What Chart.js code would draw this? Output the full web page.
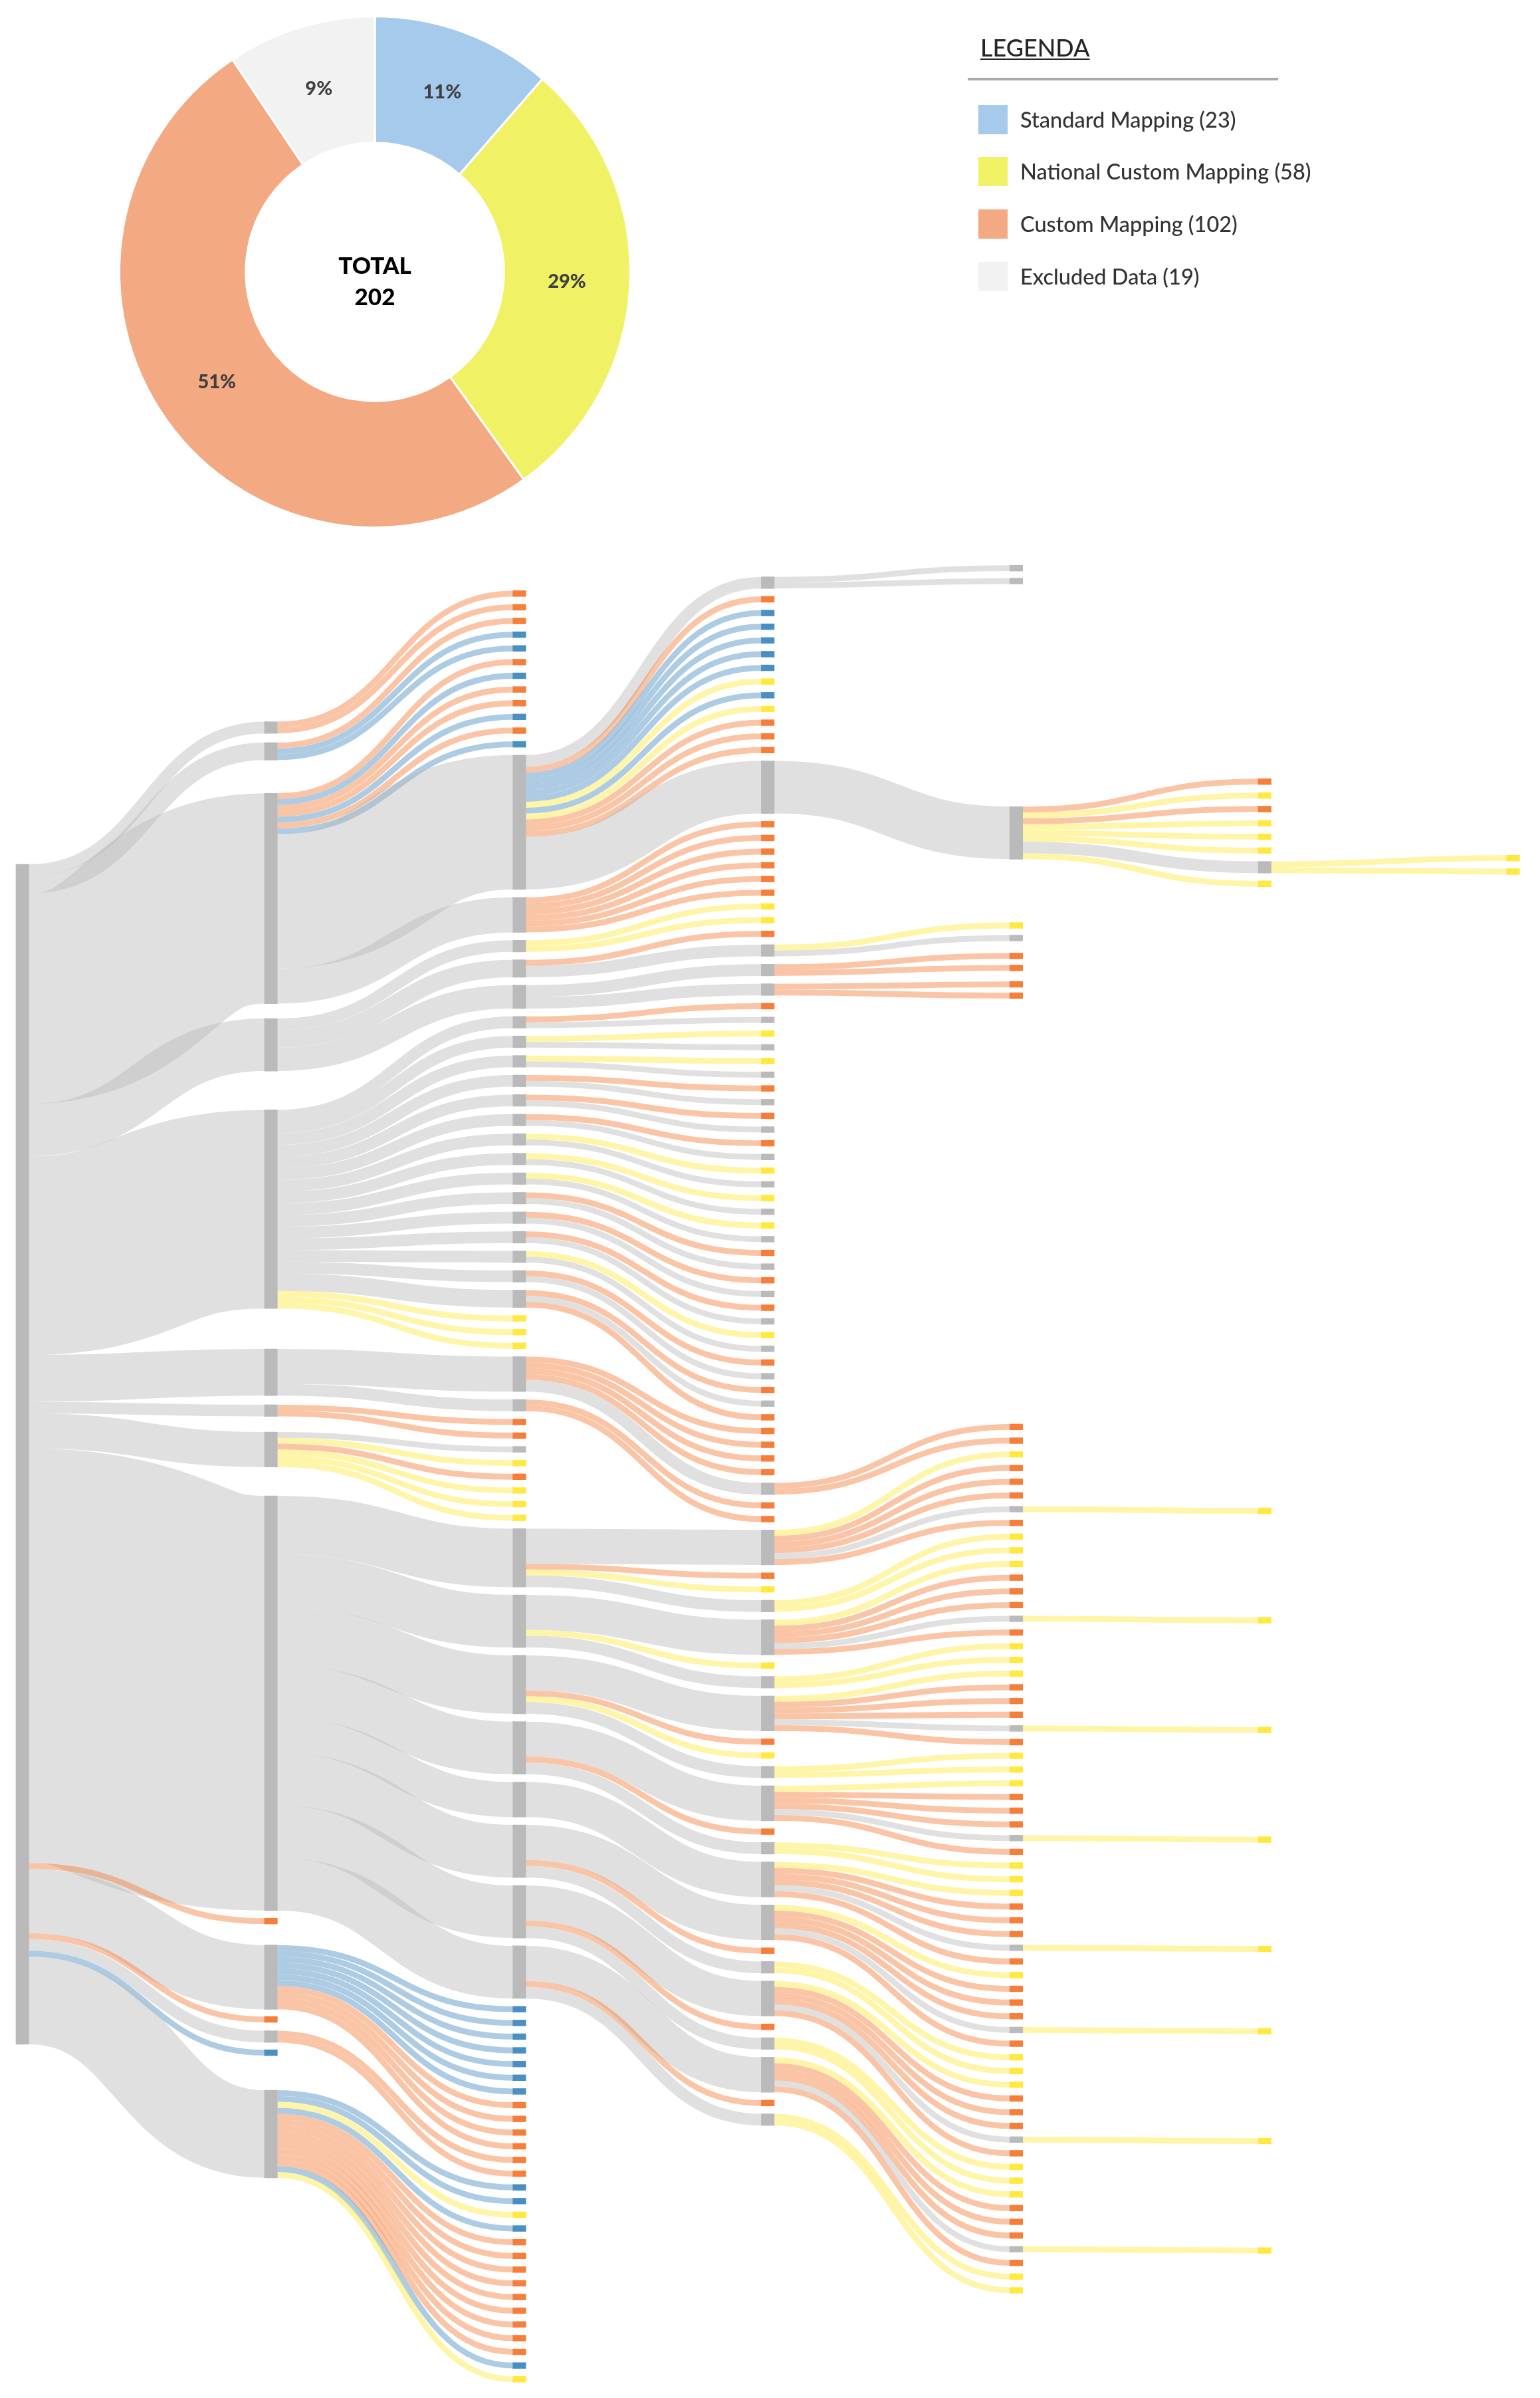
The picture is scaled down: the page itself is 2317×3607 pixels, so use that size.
<!DOCTYPE html>
<html>
<head>
<meta charset="utf-8">
<title>Mapping</title>
<script src="https://cdn.jsdelivr.net/npm/chart.js@4"></script>
<style>
html,body{margin:0;padding:0;background:#fff;width:2317px;height:3607px;overflow:hidden}
canvas{position:absolute;left:0;top:0}
#legend{position:absolute;left:0;top:0;font-family:Lato,sans-serif;color:#333;font-weight:500}
#legend .t{position:absolute;left:1475px;top:49px;font-size:36px;line-height:44px;text-decoration:underline;text-decoration-thickness:2px;text-underline-offset:3px;color:#262626}
#legend .r{position:absolute;left:1456px;top:117px;width:467px;height:4px;background:#a9a9a9}
#legend .s{position:absolute;left:1472px;width:44px;height:44px}
#legend .l{position:absolute;left:1535px;font-size:32.5px;line-height:40px;white-space:nowrap}
</style>
</head>
<body>
<canvas id="flow" width="2317" height="3607"></canvas>
<canvas id="donut" width="1128" height="818"></canvas>
<div id="legend"></div>
<script>
// ---- Doughnut data ----
const categories = ['Standard Mapping', 'National Custom Mapping', 'Custom Mapping', 'Excluded Data'];
const categoryCounts = [23, 58, 102, 19];
const categoryColors = ['#A6CAEC', '#F1F166', '#F3AA82', '#F2F2F2'];
const sliceLabels = ['11%', '29%', '51%', '9%'];
const totalLabel = ['TOTAL', '202'];
const legendTitle = 'LEGENDA';

// ---- Sankey data: tokens are kind + record count ----
// g = grey node continuing to the next stage, x = excluded end, o/b/y = custom / standard / national end
const stage0 = ['g202'];
const stage0Tops = [0];

const stage1Groups = ['g2 g3 g36 g9 g34 g8 g2 g6 g71 o g11 o g2 b g15'];
const stage1Tops = [-24.40,-20.83,-12.15,26.40,42.04,82.96,92.52,97.19,108.11,180.41,185.01,197.24,199.68,202.94,209.86];

// children of each g node of the previous stage, in order
const stage2Groups = [
  'o o', 'o b b', 'o b o o b o b g23 g6', 'g2 g3 g4',
  'g2 g2 g2 g2 g2 g2 g2 g2 g2 g2 g2 g2 g2 g2 g3 y y y',
  'g6 g2', 'o o', 'x y o y y y',
  'g10 g9 g10 g9 g6 g9 g9 g9',
  'b b b b b b b o o o o', 'o o',
  'b b y b o o o o o o o o o b y'
];
const stage2Tops = [-46.84];

const stage3Groups = [
  'g2 o b b b b b y b y o o o g9', 'o o o o o o', 'y y', 'o g2', 'g2 g2',
  'o x','y x','y x','o x','o x','o x','y x','y x','y x','o x','o x','o x','y x','o x','o x o',
  'o o o o g2', 'o o',
  'g6 o y g2', 'g6 y g2', 'g6 o y g2', 'g6 o g2', 'g6', 'g6 o g2', 'g6 o g2', 'g6 o g2'
];
const stage3Tops = [-49.2];

const stage4Groups = [
  'x x', 'g9', 'y x', 'o o', 'o o', 'o o',
  'y o o o g o', 'y y', 'y o o o g o', 'y y', 'y o o o g o', 'y y', 'y o o o g o', 'y y',
  'y o o o g o', 'y o o o g o', 'y y', 'y o o o g o', 'y y', 'y o o o g o', 'y y'
];
const stage4Tops = [-51.18,-48.98,-9.87,9.97,12.13,15.20,17.25,20.05,21.99,95.82];

const stage5Groups = ['o y o y y y g2 y','y','y','y','y','y','y','y','y'];
const stage5Tops = [-14.65,-12.26,-9.95,-7.52,-5.20,-2.86,-0.49,2.83,110.18,128.92,147.69,166.47,185.19,199.27,218.07,236.80];

const stage6Groups = ['y y'];
const stage6Tops = [-1.56,0.75];

const nodeGap = 1.346;   // records of empty space between packed nodes

const nodeColors = {g:'#bababa', x:'#bababa', o:'#f47e3a', b:'#4a8fc2', y:'#ffe83f'};
const linkColors = {g:'rgba(186,186,186,0.45)', x:'rgba(186,186,186,0.45)', o:'rgba(244,126,58,0.45)', b:'rgba(74,143,194,0.45)', y:'rgba(255,232,63,0.45)'};
const NODE_PX = 19.5;

// ---- Build nodes and links from the lists above ----
const tok = t => ({kind:t[0], value:+t.slice(1) || 1, cursor:0});
function place(list, stage, tops){
  let y = 0;
  list.forEach((n,i)=>{
    n.stage = stage;
    n.top = i < tops.length ? tops[i] : y;
    y = n.top + n.value + nodeGap;
  });
  return list;
}
const stages = [place(stage0.map(tok),0,stage0Tops)];
const links = [];
function nextStage(groups, tops){
  const stage = stages.length;
  const parents = stages[stage-1].filter(n=>n.kind==='g');
  if (parents.length !== groups.length) throw new Error('stage '+stage+' groups '+groups.length+' vs parents '+parents.length);
  const list = [];
  groups.forEach((g,pi)=>{
    const kids = g.split(' ').map(tok);
    const sum = kids.reduce((a,k)=>a+k.value,0);
    if (sum !== parents[pi].value) throw new Error('stage '+stage+' group '+pi+' sum '+sum+' vs '+parents[pi].value);
    kids.forEach(k=>{k.parent=parents[pi]; list.push(k);});
  });
  stages.push(place(list,stage,tops));
  list.forEach(k=>{
    links.push({from:stage-1,to:stage,y0:k.parent.top+k.parent.cursor,y1:k.top,v:k.value,kind:k.kind});
    k.parent.cursor += k.value;
  });
}
nextStage(stage1Groups, stage1Tops);
nextStage(stage2Groups, stage2Tops);
nextStage(stage3Groups, stage3Tops);
nextStage(stage4Groups, stage4Tops);
nextStage(stage5Groups, stage5Tops);
nextStage(stage6Groups, stage6Tops);

const allNodes = stages.flat();
const kindOrder = ['g','x','o','b','y'];
const nodeDatasets = kindOrder.map(kind=>({
  label: kind,
  data: allNodes.filter(n=>n.kind===kind).map(n=>({x:n.stage, y:[n.top, n.top+n.value]})),
  backgroundColor: nodeColors[kind],
  borderWidth: 0,
  barThickness: NODE_PX,
  grouped: false
}));

// Each link is a stroked curve whose width is its record count on the y scale
const ribbonPlugin = {
  id:'ribbons',
  beforeDatasetsDraw(chart){
    const {ctx, scales:{x,y}} = chart;
    ctx.save();
    ctx.lineCap = 'butt';
    links.forEach(l=>{
      const xa = x.getPixelForValue(l.from)+NODE_PX/2;
      const xb = x.getPixelForValue(l.to)-NODE_PX/2;
      const xm = (xa+xb)/2;
      const ya = y.getPixelForValue(l.y0+l.v/2);
      const yb = y.getPixelForValue(l.y1+l.v/2);
      ctx.beginPath();
      ctx.moveTo(xa,ya);
      ctx.bezierCurveTo(xm,ya,xm,yb,xb,yb);
      ctx.lineWidth = Math.abs(y.getPixelForValue(l.v)-y.getPixelForValue(0));
      ctx.strokeStyle = linkColors[l.kind];
      ctx.stroke();
    });
    ctx.restore();
  }
};

new Chart(document.getElementById('flow'),{
  type:'bar',
  data:{datasets:nodeDatasets},
  plugins:[ribbonPlugin],
  options:{
    responsive:false, animation:false, maintainAspectRatio:false,
    layout:{padding:0},
    plugins:{legend:{display:false},tooltip:{enabled:false},title:{display:false}},
    scales:{
      x:{type:'linear',display:false,min:-0.0903,max:6.1082,offset:false},
      y:{type:'linear',display:false,min:-147.95,max:262.55,reverse:true}
    }
  }
});

// ---- Doughnut ----
const donutLabels = {
  id:'donutLabels',
  afterDatasetsDraw(chart){
    const {ctx} = chart;
    const arcs = chart.getDatasetMeta(0).data;
    ctx.save();
    ctx.textAlign='center'; ctx.textBaseline='middle';
    ctx.fillStyle='#404040';
    ctx.font='900 29px Lato, sans-serif';
    arcs.forEach((a,i)=>{
      const p=a.tooltipPosition();
      ctx.fillText(sliceLabels[i],p.x,p.y+1);
    });
    const c=arcs[0];
    ctx.fillStyle='#000';
    ctx.font='900 35px Lato, sans-serif';
    ctx.fillText(totalLabel[0],c.x,c.y-8);
    ctx.fillText(totalLabel[1],c.x,c.y+39);
    ctx.restore();
  }
};
new Chart(document.getElementById('donut'),{
  type:'doughnut',
  data:{labels:categories,datasets:[{data:categoryCounts,backgroundColor:categoryColors,borderColor:'#fff',borderWidth:3,radius:384.5,cutout:'50.5%'}]},
  plugins:[donutLabels],
  options:{
    responsive:false, animation:false, maintainAspectRatio:false,
    layout:{padding:0},
    plugins:{legend:{display:false},tooltip:{enabled:false}}
  }
});

// ---- Legend ----
const legendTops = [158,236,315,394];
const lg = document.getElementById('legend');
let html = '<div class="t">'+legendTitle+'</div><div class="r"></div>';
categories.forEach((c,i)=>{
  html += '<div class="s" style="top:'+legendTops[i]+'px;background:'+categoryColors[i]+'"></div>';
  html += '<div class="l" style="top:'+(legendTops[i]+2)+'px">'+c+' ('+categoryCounts[i]+')</div>';
});
lg.innerHTML = html;
</script>
</body>
</html>
